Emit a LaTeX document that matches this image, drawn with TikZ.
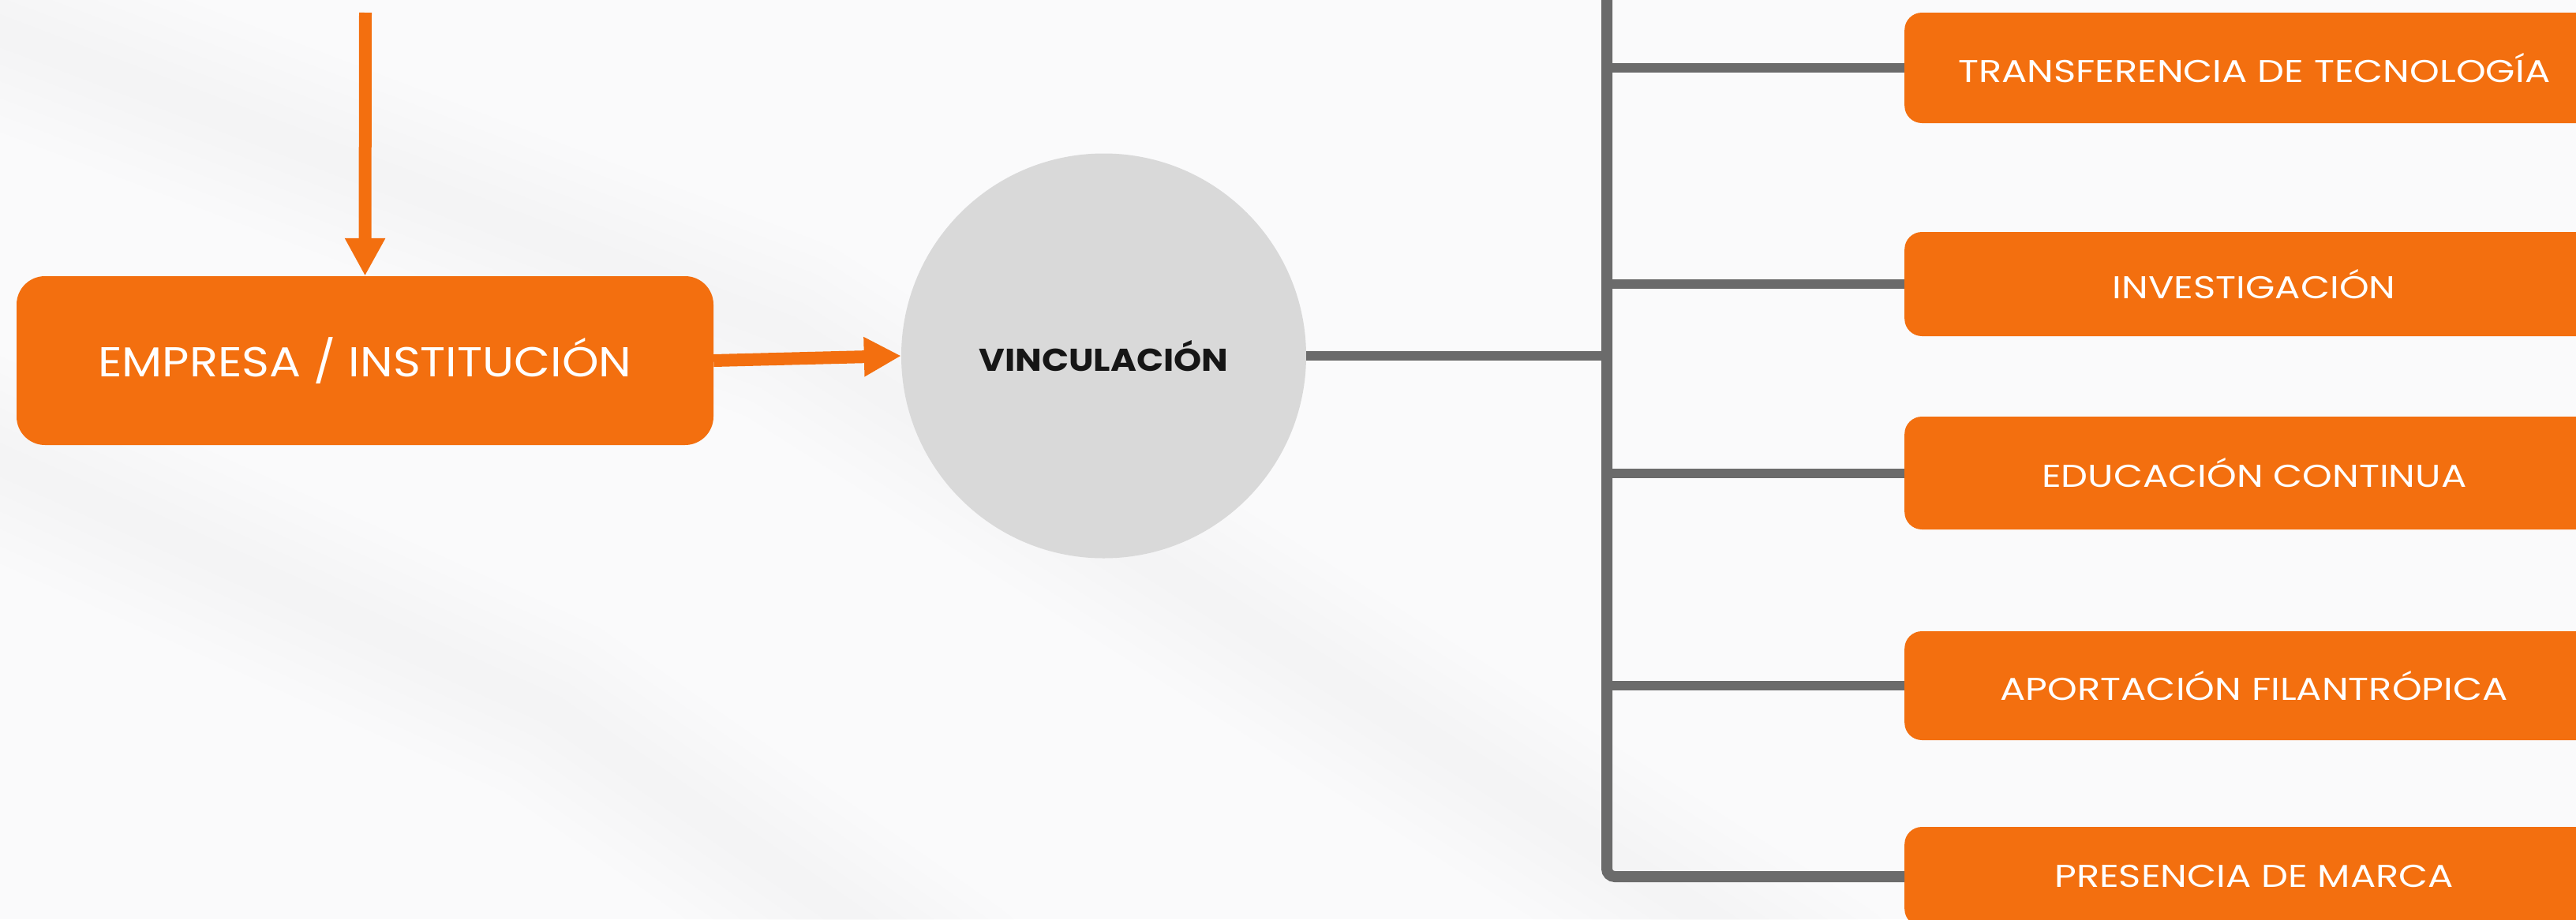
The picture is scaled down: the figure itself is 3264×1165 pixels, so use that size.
\documentclass[tikz,border=0pt]{standalone}
\usepackage{fontspec}
\setmainfont{Poppins}
\newfontfamily\widefont{Poppins}[FakeStretch=1.2]
\newfontfamily\midfont{Poppins}[FakeStretch=1.12]
\usetikzlibrary{arrows.meta}
\definecolor{orng}{HTML}{F36F0F}
\definecolor{barc}{HTML}{6B6B6B}
\definecolor{circc}{HTML}{D9D9D9}
\definecolor{bgc}{HTML}{FAFAFB}
\definecolor{ink}{HTML}{161616}
\begin{document}
\begin{tikzpicture}[x=1pt,y=-1pt,
  obox/.style={fill=orng, rounded corners=22pt, minimum width=886pt, text=white,
    font=\widefont\fontsize{40}{40}\selectfont, inner sep=0pt, anchor=west},
  lbox/.style={fill=orng, rounded corners=36pt, minimum width=883pt, minimum height=214pt,
    text=white, font=\midfont\fontsize{53}{53}\selectfont, inner sep=0pt},
  hub/.style={circle, fill=circc, minimum size=513pt, inner sep=0pt, text=ink,
    font=\midfont\bfseries\fontsize{40}{40}\selectfont},
  oarrow/.style={orng, line width=16pt, -{Triangle[width=48pt,length=48pt]}},
  gline/.style={barc, line width=12pt},
  gbar/.style={barc, line width=14pt, rounded corners=10pt},
  soft/.style={line cap=round, opacity=0.004, line width=#1}]
\useasboundingbox (0,0) rectangle (3264,1165);
\clip (0,0) rectangle (3264,1165);
\fill[bgc] (0,0) rectangle (3264,1165);
% faint background streaks
\foreach \w in {40,80,120,160,200,240}{
  \draw[black, soft=\w pt] (-50,20) -- (1000,420) -- (2300,1250);
  \draw[black, soft=\w pt] (-50,560) -- (700,900) -- (1200,1250);
  \draw[white, soft=\w pt, opacity=0.08] (1650,-40) -- (2150,480) -- (2850,1060);
}

\coordinate (src) at (463,16);
\coordinate (bartop) at (2036,-20);

\node[lbox] (ent) at (462.5,457) {EMPRESA / INSTITUCIÓN};
\node[hub] (vinc) at (1398.5,451) {VINCULACIÓN};

\node[obox, minimum height=140pt] (t1) at (2413,86) {TRANSFERENCIA DE TECNOLOGÍA};
\node[obox, minimum height=132pt] (t2) at (2413,360) {INVESTIGACIÓN};
\node[obox, minimum height=143pt] (t3) at (2413,599.5) {EDUCACIÓN CONTINUA};
\node[obox, minimum height=138pt] (t4) at (2413,869) {APORTACIÓN FILANTRÓPICA};
\node[obox, minimum height=126pt] (t5) at (2413,1111) {PRESENCIA DE MARCA};

\draw[oarrow] (src) -- (ent.north);
\draw[oarrow, -{Triangle[width=47pt,length=47pt]}] (ent.east) -- (vinc.west);

\draw[gbar] (bartop) |- (t5.west);
\draw[gline] (vinc.east) -- (vinc.east -| bartop);
\draw[gline] (t1.west -| bartop) -- (t1.west);
\draw[gline] (t2.west -| bartop) -- (t2.west);
\draw[gline] (t3.west -| bartop) -- (t3.west);
\draw[gline] (t4.west -| bartop) -- (t4.west);
\end{tikzpicture}
\end{document}
